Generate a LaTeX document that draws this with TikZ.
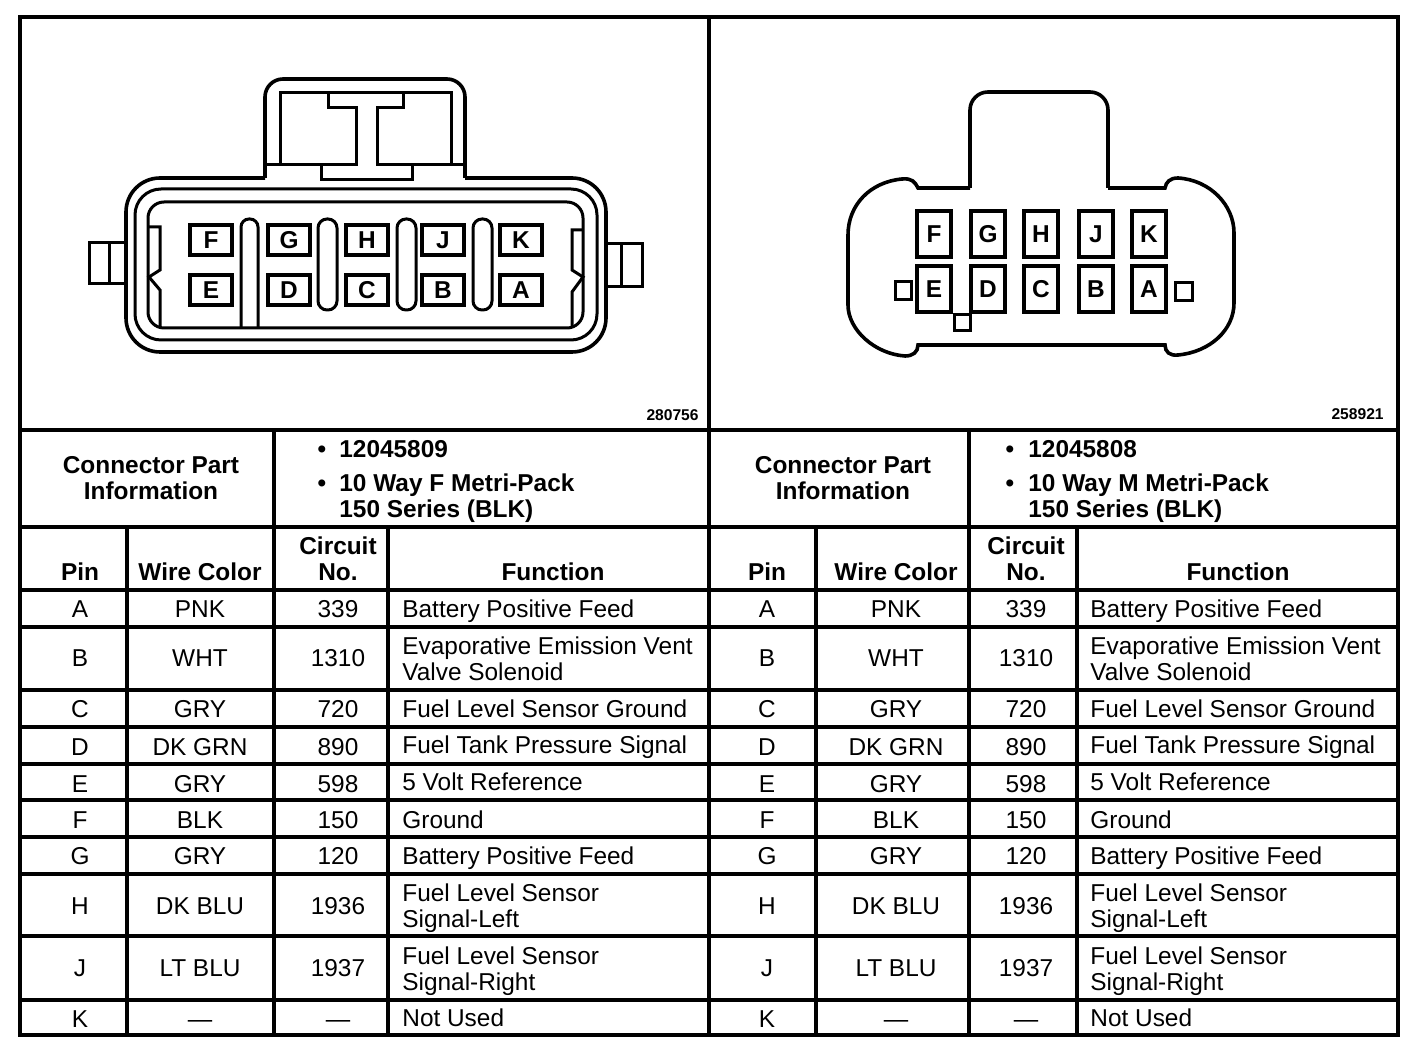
\documentclass[tikz,border=0pt]{standalone}
\usepackage{fontspec}
\setmainfont{Liberation Sans}
\newcommand{\cellfont}{\fontsize{12.2}{13}\selectfont}
\newcommand{\headfont}{\fontsize{12.2}{13}\selectfont\bfseries}
\tikzset{
  ruling/.style={line width=1.7pt},
  shell/.style={line width=1.8pt},
  thinshell/.style={line width=1.5pt},
  cell/.style={inner sep=0pt, anchor=base, font=\cellfont},
  funccell/.style={inner sep=0pt, anchor=base west, font=\cellfont, align=left},
  headcell/.style={inner sep=0pt, anchor=base, font=\headfont},
  partcell/.style={inner sep=0pt, anchor=base west, font=\headfont},
  lpinbox/.style={draw, line width=1.6pt, inner sep=0pt, minimum width=21pt, minimum height=15pt, font=\headfont},
  rpinbox/.style={draw, line width=1.6pt, inner sep=0pt, minimum width=17pt, minimum height=23pt, font=\headfont},
  refno/.style={inner sep=0pt, anchor=base east, font=\fontsize{7.8}{8}\selectfont\bfseries}
}

\begin{document}
\begin{tikzpicture}[x=0.5pt, y=-0.5pt]
  \useasboundingbox (0,0) rectangle (1408,1052);

  % table rulings
  \draw [ruling] (20,17) rectangle (1398,1035);
  \draw [ruling] (709,17) -- (709,1035);
  \foreach \y in {430,527,590,627,690,727,764,800,837,874,936,1000} {
    \draw [ruling] (20,\y) -- (1398,\y);
  }
  \foreach \x in {274,969} {
    \draw [ruling] (\x,430) -- (\x,1035);
  }
  \foreach \x in {127,388,816,1077} {
    \draw [ruling] (\x,527) -- (\x,1035);
  }

  % left connector
  \draw [shell, rounded corners=9pt] (265,178) -- (265,79) -- (465,79) -- (465,178);
  \draw [shell, rounded corners=17pt] (465,178) -- (606,178) -- (606,352) -- (126,352) -- (126,178) -- (265,178);
  \draw [thinshell, rounded corners=13pt] (135,189) rectangle (597,340);
  \draw [thinshell, rounded corners=8pt] (148,202) rectangle (583,328);
  \draw [thinshell] (280,165) -- (280,93) -- (451,93) -- (451,165);
  \draw [thinshell] (265,165) -- (356,165) -- (356,108) -- (328,108) -- (328,93);
  \draw [thinshell] (465,165) -- (377,165) -- (377,108) -- (403,108) -- (403,93);
  \draw [thinshell] (321,165) -- (321,180) -- (412,180) -- (412,165);
  \draw [thinshell] (126,243) -- (89,243) -- (89,284) -- (126,284) (109,243) -- (109,284);
  \draw [thinshell] (608,244) -- (642,244) -- (642,287) -- (608,287) (621,244) -- (621,287);
  \draw [thinshell] (148,227) -- (160,227) -- (160,270) -- (149,277) -- (160,290) -- (160,328);
  \draw [thinshell] (583,230) -- (572,230) -- (572,270) -- (583,277) -- (572,292) -- (572,328);
  \draw [thinshell, rounded corners=4pt] (241,328) -- (241,219) -- (258,219) -- (258,328);
  \foreach \x in {318,397,473} {
    \draw [thinshell, rounded corners=4.5pt] (\x,219) rectangle (\x+19,310);
  }
  \foreach \upper/\lower/\x in {F/E/211, G/D/289, H/C/367, J/B/443, K/A/521} {
    \node [lpinbox] (lpin-\upper) at (\x,240) {\upper};
    \node [lpinbox] (lpin-\lower) at (\x,290) {\lower};
  }

  % right connector
  \draw [shell, rounded corners=9pt] (970,188) -- (970,92) -- (1108,92) -- (1108,188);
  \draw [shell] (970,188) -- (918,188) .. controls (915,182) and (912,178) .. (902,179)
    .. controls (870,182) and (848,205) .. (848,235) -- (848,305)
    .. controls (848,330) and (875,354) .. (905,356)
    .. controls (913,356) and (918,352) .. (918,345) -- (1165,345)
    .. controls (1165,352) and (1170,356) .. (1178,355)
    .. controls (1210,352) and (1234,330) .. (1234,303) -- (1234,233)
    .. controls (1234,205) and (1210,180) .. (1178,178)
    .. controls (1170,178) and (1166,182) .. (1165,188) -- (1108,188);
  \foreach \upper/\lower/\x in {F/E/934, G/D/988, H/C/1041, J/B/1096, K/A/1149} {
    \node [rpinbox] (rpin-\upper) at (\x,234) {\upper};
    \node [rpinbox] (rpin-\lower) at (\x,289) {\lower};
  }
  \draw [thinshell] (895,282) rectangle (911,300);
  \draw [thinshell] (1175,283) rectangle (1192,301);
  \draw [thinshell] (954,315) rectangle (970,331);

  \node [refno] (lref) at (699,421) {280756};
  \node [refno] (rref) at (1384,420) {258921};

  % both tables
  \foreach \tbl/\xhead/\xbul/\xpart/\xpin/\xwire/\xno/\xname/\xfunc/\partno/\parttype in
      {l/151/322/339/80/200/338/553/402/12045809/F, r/843/1010/1028/767/896/1026/1238/1090/12045808/M} {
    \node [headcell] (\tbl-conn) at (\xhead,474) {Connector Part};
    \node [headcell] (\tbl-info) at (\xhead,500) {Information};
    \node [headcell] (\tbl-bula) at (\xbul,458) {\textbullet};
    \node [headcell] (\tbl-bulb) at (\xbul,492) {\textbullet};
    \node [partcell] (\tbl-part) at (\xpart,458) {\partno};
    \node [partcell] (\tbl-way) at (\xpart,492) {10 Way \parttype\ Metri-Pack};
    \node [partcell] (\tbl-ser) at (\xpart,518) {150 Series (BLK)};
    \node [headcell] (\tbl-hpin) at (\xpin,581) {Pin};
    \node [headcell] (\tbl-hwire) at (\xwire,581) {Wire Color};
    \node [headcell] (\tbl-hcirc) at (\xno,555) {Circuit};
    \node [headcell] (\tbl-hno) at (\xno,581) {No.};
    \node [headcell] (\tbl-hfunc) at (\xname,581) {Function};
    \foreach \pin/\base/\funcbase/\wire/\circ/\func in {
        A/618/618/PNK/339/{Battery Positive Feed},
        B/667/681/WHT/1310/{Evaporative Emission Vent\\Valve Solenoid},
        C/718/718/GRY/720/{Fuel Level Sensor Ground},
        D/755/754/DK GRN/890/{Fuel Tank Pressure Signal},
        E/792/791/GRY/598/{5 Volt Reference},
        F/828/828/BLK/150/{Ground},
        G/864/864/GRY/120/{Battery Positive Feed},
        H/914/927/DK BLU/1936/{Fuel Level Sensor\\Signal-Left},
        J/976/990/LT BLU/1937/{Fuel Level Sensor\\Signal-Right},
        K/1027/1026/---/---/{Not Used}} {
      \node [cell] (\tbl-pin-\pin) at (\xpin,\base) {\pin};
      \node [cell] (\tbl-wire-\pin) at (\xwire,\base) {\wire};
      \node [cell] (\tbl-circ-\pin) at (\xno,\base) {\circ};
      \node [funccell] (\tbl-func-\pin) at (\xfunc,\funcbase) {\func};
    }
  }
\end{tikzpicture}
\end{document}
